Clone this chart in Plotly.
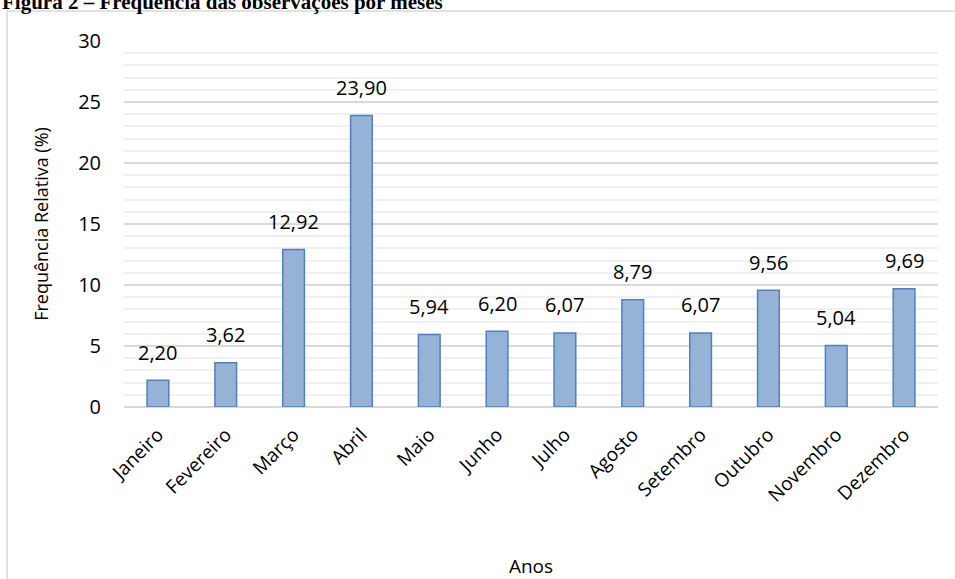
import plotly.graph_objects as go

months = ["Janeiro", "Fevereiro", "Março", "Abril", "Maio", "Junho", "Julho",
          "Agosto", "Setembro", "Outubro", "Novembro", "Dezembro"]
values = [2.20, 3.62, 12.92, 23.90, 5.94, 6.20, 6.07, 8.79, 6.07, 9.56, 5.04, 9.69]
labels = [f"{v:.2f}".replace(".", ",") for v in values]

L, R, T, B = 124, 938, 41, 407
W, H = 955, 579
pw, ph = R - L, B - T

fig = go.Figure(go.Bar(
    x=months, y=values,
    marker=dict(color="#95B3D7", line=dict(color="#4F81BD", width=1.5)),
    width=0.32,
))

annotations = [dict(x=m, y=v, text=t, xref="x", yref="y", showarrow=False,
                    yanchor="middle", yshift=28,
                    font=dict(size=20, color="#000000", family="Open Sans"))
               for m, v, t in zip(months, values, labels)]
annotations.append(dict(text="<b>Figura 2 – Frequência das observações por meses</b>",
                        xref="paper", yref="paper", x=(0 - L) / pw, y=(B - 16) / ph,
                        xanchor="left", yanchor="bottom", showarrow=False,
                        font=dict(family="Liberation Serif", size=21, color="#000000")))

fig.update_layout(
    width=W, height=H,
    margin=dict(l=L, r=W - R, t=T, b=H - B),
    paper_bgcolor="white", plot_bgcolor="white",
    showlegend=False,
    font=dict(family="Open Sans", size=18, color="#000000"),
    xaxis=dict(tickangle=-45, showline=False, ticks="", ticklabelstandoff=12, automargin=False,
               title=dict(text="Anos", font=dict(size=19), standoff=53),
               tickfont=dict(size=19)),
    yaxis=dict(range=[0, 30], dtick=5, showgrid=True, gridcolor="#D9D9D9", gridwidth=1.5,
               minor=dict(dtick=1, showgrid=True, gridcolor="#F0F0F0", gridwidth=1.5),
               zeroline=True, zerolinecolor="#D9D9D9", zerolinewidth=1.5, automargin=False,
               ticks="", tickfont=dict(size=20), ticklabelstandoff=22,
               title=dict(text="Frequência Relativa (%)", font=dict(size=18), standoff=24)),
    shapes=[dict(type="rect", xref="paper", yref="paper",
                 x0=(7 - L) / pw, x1=1.2, y0=-0.7, y1=(B - 11) / ph,
                 line=dict(color="#D9D9D9", width=1.5), fillcolor="rgba(0,0,0,0)", layer="below")],
    annotations=annotations,
)

fig.write_html("out.html")
